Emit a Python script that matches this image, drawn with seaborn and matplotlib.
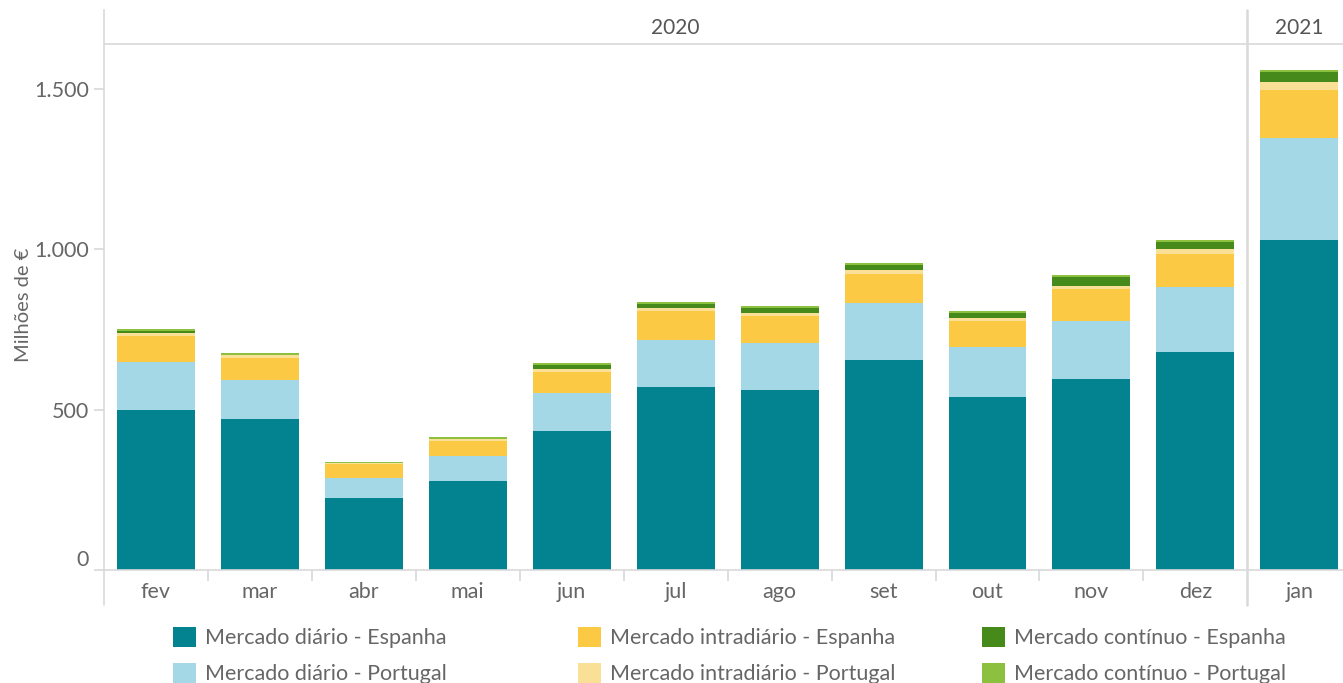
import matplotlib
matplotlib.use("Agg")
import matplotlib.pyplot as plt
import seaborn as sns
import pandas as pd
from matplotlib.patches import Patch

# --- data (millions of EUR) ---
months = ["fev", "mar", "abr", "mai", "jun", "jul", "ago", "set", "out", "nov", "dez", "jan"]
diario_es = [499, 471, 224, 277, 433, 571, 561, 655, 540, 596, 680, 1029]
diario_pt = [151, 122, 62, 79, 118, 147, 146, 176, 154, 181, 202, 318]
intra_es = [81, 68, 44, 46, 66, 90, 85, 93, 83, 100, 104, 150]
intra_pt = [7, 9, 3, 6, 9, 9, 9, 12, 9, 9, 16, 25]
continuo_es = [6, 1, 0, 1, 12, 12, 16, 16, 16, 28, 22, 31]
continuo_pt = [6, 5, 5, 5, 6, 6, 6, 6, 6, 6, 6, 6]

series_names = ["Mercado diário - Espanha", "Mercado diário - Portugal",
                "Mercado intradiário - Espanha", "Mercado intradiário - Portugal",
                "Mercado contínuo - Espanha", "Mercado contínuo - Portugal"]
series_colors = ["#02838F", "#A4D8E6", "#FCC945", "#FADF97", "#468A1C", "#8CC13F"]

year_labels = ["2020", "2021"]
ytick_values = [0, 500, 1000, 1500]
ytick_labels = ["0", "500", "1.000", "1.500"]

df = pd.DataFrame({
    "mes": months,
    series_names[0]: diario_es,
    series_names[1]: diario_pt,
    series_names[2]: intra_es,
    series_names[3]: intra_pt,
    series_names[4]: continuo_es,
    series_names[5]: continuo_pt,
})

sns.set_theme(style="white")
plt.rcParams["font.family"] = ["Lato", "DejaVu Sans"]

GRID = "#d9d9d9"
TXT = "#666666"
FS = 15.5

fig = plt.figure(figsize=(13.43, 6.83), dpi=100)
W, H = 1343, 683
ax = fig.add_axes([104 / W, (H - 570) / H, (1343 - 104) / W, 560 / H])

# stacked bars: draw cumulative totals from the top down
cum = df[series_names].cumsum(axis=1)
for name, color in reversed(list(zip(series_names, series_colors))):
    sns.barplot(x=df["mes"], y=cum[name], color=color, width=0.75,
                linewidth=0, saturation=1, ax=ax, order=months)

px = 0.3207  # pixels per unit
ax.set_xlim(-0.5, 11.42)
ax.set_ylim(0, 560 / px)

# header band with years
header_y = 526 / px
ax.axhline(header_y, color=GRID, lw=1.2)
ax.text(5, 542 / px, year_labels[0], ha="center", va="center", fontsize=15, color="#555555")
ax.text(11, 542 / px, year_labels[1], ha="center", va="center", fontsize=15, color="#555555")

# spines / separators
for s in ["top", "right"]:
    ax.spines[s].set_visible(False)
ax.spines["left"].set_color(GRID)
ax.spines["bottom"].set_color(GRID)
ax.spines["left"].set_linewidth(1.2)
ax.spines["bottom"].set_linewidth(1.2)
ext = -35 / 560
ax.plot([0, 0], [ext, 0], transform=ax.transAxes, color=GRID, lw=1.2, clip_on=False)
ax.axvline(10.5, ymin=ext, ymax=1, color=GRID, lw=1.8, clip_on=False)

# ticks
ax.set_yticks(ytick_values)
ax.set_yticklabels(ytick_labels)
ax.tick_params(axis="y", left=True, length=7, color=GRID, labelsize=FS,
               labelcolor=TXT, pad=4)
ylabels = ax.get_yticklabels()
ylabels[0].set_va("bottom")
ax.set_xticks(range(len(months)))
ax.set_xticklabels(months)
ax.set_xticks([i + 0.5 for i in range(10)], minor=True)
ax.tick_params(axis="x", which="major", bottom=False, labelsize=FS, labelcolor=TXT, pad=3)
ax.tick_params(axis="x", which="minor", bottom=True, length=8, color=GRID, width=1.2)
ax.set_xlabel("")
ax.set_ylabel("Milhões de €", fontsize=14.5, color=TXT)
ax.yaxis.set_label_coords(-0.058, 0.473)

# legend: three columns placed separately
col_x = [173, 578, 982]
for c in range(3):
    handles = [Patch(facecolor=series_colors[2 * c + r], edgecolor="none", label=series_names[2 * c + r])
               for r in range(2)]
    fig.legend(handles=handles, loc="upper left", bbox_to_anchor=(col_x[c] / W, 1 - 627 / H),
               frameon=False, fontsize=FS, labelcolor=TXT, handlelength=1.05, handleheight=1.05,
               handletextpad=0.45, labelspacing=0.68, borderaxespad=0, borderpad=0)

fig.savefig("out.png", dpi=100, facecolor="white")
